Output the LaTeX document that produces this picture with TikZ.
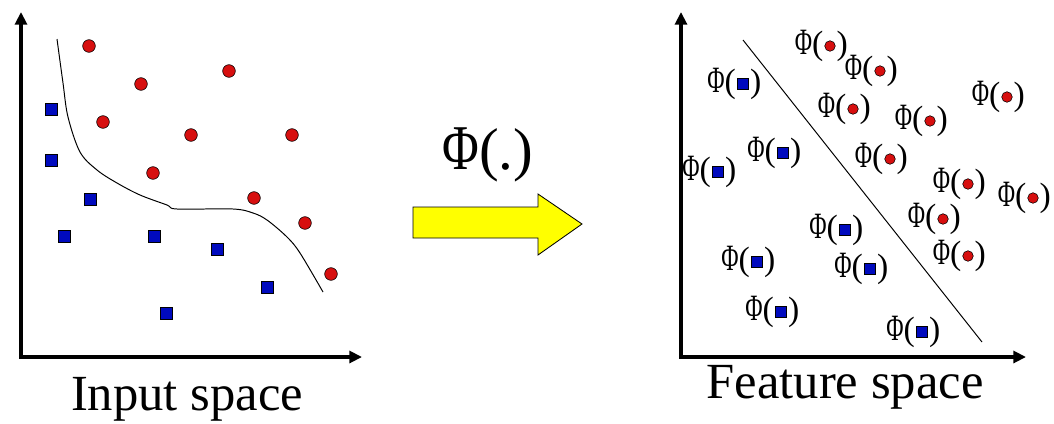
\documentclass[tikz,border=0pt]{standalone}
\usepackage{fontspec}
\usepackage{graphicx}
\setmainfont{Liberation Serif}
\usetikzlibrary{arrows.meta,positioning}
\definecolor{ptred}{RGB}{215,15,15}
\definecolor{ptblue}{RGB}{0,10,190}
\definecolor{mapyellow}{RGB}{255,255,0}
\newcommand{\thinphi}{\scalebox{0.7}[1.1]{Φ}}

\begin{document}
\begin{tikzpicture}[x=0.025cm, y=-0.025cm,
    axis/.style={line width=2.4pt, line join=miter,
      {Triangle[length=9pt,width=8.5pt]}-{Triangle[length=9pt,width=8.5pt]}},
    border/.style={line width=0.7pt},
    redpt/.style={circle, draw=black, line width=0.4pt, fill=ptred,
      inner sep=0pt, minimum size=9pt},
    bluept/.style={rectangle, draw=black, line width=0.4pt, fill=ptblue,
      inner sep=0pt, minimum size=8.8pt},
    phitxt/.style={inner sep=0pt, font=\fontsize{24}{24}\selectfont},
    caption/.style={anchor=base, inner sep=0pt, font=\fontsize{36}{42}\selectfont},
  ]
  \useasboundingbox (0,0) rectangle (1054,423);

  % Input space
  \coordinate (in-y) at (21,12);
  \coordinate (in-o) at (21,357);
  \coordinate (in-x) at (362,357);
  \draw[axis] (in-y) -- (in-o) -- (in-x);
  \draw[border] plot[smooth, tension=0.55] coordinates {(57,39) (63,83) (68,117)
    (80,152) (97,170) (117,183) (140,195) (167,205) (177,209) (233,209)
    (253,213) (267,220) (287,237) (300,253) (323,292)};
  \foreach \x/\y [count=\i] in {89/46, 141/84, 229/71, 103/122, 191/135,
      292/135, 153/173, 254/198, 305/223, 331/274}
    \node[redpt] (ir\i) at (\x,\y) {};
  \foreach \x/\y [count=\i] in {51/109, 51/160, 90/199, 64/236, 154/236,
      217/249, 267/287, 166/313}
    \node[bluept] (ib\i) at (\x,\y) {};
  \node[caption] (incap) at (187,410) {Input space};

  % Mapping
  \node[inner sep=0pt, font=\fontsize{42}{42}\selectfont] (phimap) at (488,155)
    {\scalebox{0.85}[1.08]{Φ}(.)};
  \draw[fill=mapyellow, line width=0.6pt] (413,207) -- (538,207) -- (538,194)
    -- (582,224) -- (538,255) -- (538,238) -- (413,238) -- cycle;

  % Feature space
  \coordinate (ft-y) at (681,12);
  \coordinate (ft-o) at (681,357);
  \coordinate (ft-x) at (1026,357);
  \draw[axis] (ft-y) -- (ft-o) -- (ft-x);
  \coordinate (sep-a) at (743,40);
  \coordinate (sep-b) at (982,342);
  \draw[border] (sep-a) -- (sep-b);
  \foreach \x/\y [count=\i] in {830/46, 880/71, 853/109, 930/121, 1007/97,
      890/159, 968/184, 1033/198, 943/219, 968/256} {
    \node[redpt, minimum size=7.5pt] (fr\i) at (\x,\y) {};
    \node[phitxt, anchor=east] (fr\i-l) at ([xshift=-0.6pt]fr\i.west) {\thinphi(};
    \node[phitxt, anchor=west] (fr\i-r) at ([xshift=0.6pt]fr\i.east) {)};
  }
  \foreach \x/\y [count=\i] in {743/84, 783/153, 718/172, 845/230, 757/262,
      870/269, 781/312, 922/332} {
    \node[bluept, minimum size=8pt] (fb\i) at (\x,\y) {};
    \node[phitxt, anchor=east] (fb\i-l) at ([xshift=-0.6pt]fb\i.west) {\thinphi(};
    \node[phitxt, anchor=west] (fb\i-r) at ([xshift=0.6pt]fb\i.east) {)};
  }
  \node[caption] (ftcap) at (845,398) {Feature space};
\end{tikzpicture}
\end{document}
